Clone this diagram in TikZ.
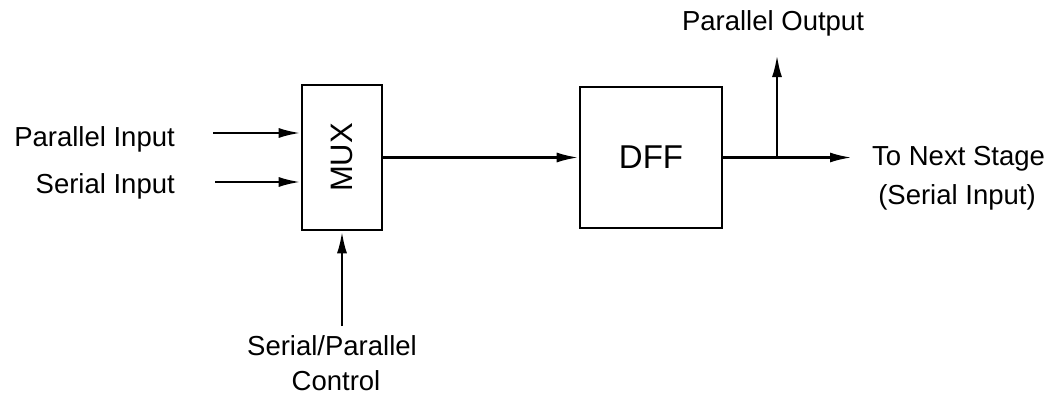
\documentclass[tikz,border=0pt]{standalone}
\usepackage{fontspec}
\setmainfont{Liberation Sans}
\usetikzlibrary{arrows.meta}
\tikzset{
  blk/.style={draw, line width=2.6pt, inner sep=0pt},
  lbl/.style={inner sep=0pt, font=\fontsize{27.5}{30}\selectfont},
  wire/.style={line width=2.6pt},
  arr/.style={wire, -{Latex[length=22pt,width=10pt]}},
}
\begin{document}
\begin{tikzpicture}[x=1pt,y=-1pt]
\useasboundingbox (0,0) rectangle (1062,410);
% boxes
\node[blk, minimum width=80pt, minimum height=145pt] (mux) at (342,157.5) {};
\node[rotate=90, font=\fontsize{31}{33}\selectfont, inner sep=0pt] (muxt) at (mux.center) {MUX};
\node[blk, minimum width=142pt, minimum height=141pt] (dff) at (651,157.5) {};
\node[font=\fontsize{33}{35}\selectfont, inner sep=0pt] (dfft) at (dff.center) {DFF};
% labels
\node[lbl, anchor=base east] (pin) at (175,146) {Parallel Input};
\node[lbl, anchor=base east] (sin) at (175,193) {Serial Input};
\node[lbl, anchor=base] (pout) at (773,30) {Parallel Output};
\node[lbl, anchor=base west] (nxt) at (872,165) {To Next Stage};
\node[lbl, anchor=base] (nxt2) at (957,204) {(Serial Input)};
\node[lbl, anchor=base] (sp) at (332,355) {Serial/Parallel};
\node[lbl, anchor=base] (ctl) at (336,390) {Control};
% coordinates
\coordinate (pinS) at (213,133);
\coordinate (sinS) at (215,182);
\coordinate (ctlS) at (342,326);
\coordinate (br) at (777,157.5);
\coordinate (poutE) at (777,55);
\coordinate (nxtE) at (852,157.5);
% connectors
\draw[arr] (pinS) -- (pinS -| mux.west);
\draw[arr] (sinS) -- (sinS -| mux.west);
\draw[arr] (ctlS) -- (mux.south);
\draw[arr] (mux.east) -- (dff.west);
\draw[arr] (dff.east) -- (nxtE);
\draw[arr] (br) -- (poutE);
\end{tikzpicture}
\end{document}
